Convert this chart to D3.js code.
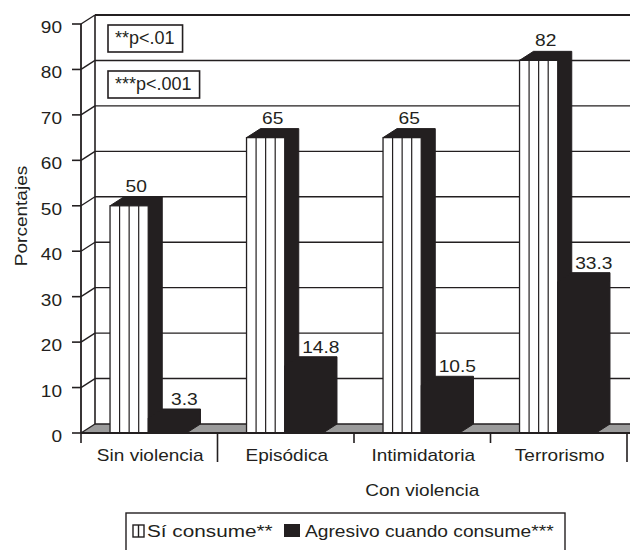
<!DOCTYPE html>
<html><head><meta charset="utf-8">
<script src="https://cdn.jsdelivr.net/npm/d3@7"></script>
<style>
body{margin:0;background:#fff}
text{font-family:"Liberation Sans",Arial,Helvetica,sans-serif;fill:#231f20}
</style>
</head><body>
<svg id="chart" width="630" height="550"></svg>
<script>
// ---- data ----
const categories = ["Sin violencia","Episódica","Intimidatoria","Terrorismo"];
const categoryGroups = ["","Con violencia","Con violencia","Con violencia"];
const seriesNames = ["Sí consume**","Agresivo cuando consume***"];
const siConsume = [50,65,65,82];
const agresivo = [3.3,14.8,10.5,33.3];
const siLabels = ["50","65","65","82"];
const agresivoLabels = ["3.3","14.8","10.5","33.3"];
const yTicks = [0,10,20,30,40,50,60,70,80,90];
const notes = ["**p<.01","***p<.001"];
const yTitle = "Porcentajes";

// ---- layout ----
const INK = "#231f20";
const X0 = 81, X1 = 627, Y0 = 433, Y1 = 24, DX = 14, DY = -9, FAR = 680;
const SX = 1.12;
const svg = d3.select("#chart");
const x = d3.scaleBand().domain(categories).range([X0, X1]);
const y = d3.scaleLinear().domain([0, 90]).range([Y0, Y1]);
const bw = x.bandwidth();
const barW = bw * 0.28;

function txt(g, px, py, s, opts = {}) {
  const t = g.append("text")
    .attr("transform", `translate(${px},${py}) rotate(${opts.rot || 0}) scale(${opts.sx || SX},1)`)
    .attr("text-anchor", opts.anchor || "start")
    .style("font-size", (opts.size || 17) + "px")
    .text(s);
  return t;
}

// floor
svg.append("polygon")
  .attr("points", [[X0, Y0], [FAR, Y0], [FAR + DX, Y0 + DY], [X0 + DX, Y0 + DY]].map(p => p.join(",")).join(" "))
  .attr("fill", "#9b9b9b");

// back wall gridlines and left wall diagonals
const grid = svg.append("g").attr("stroke", INK).attr("fill", "none");
yTicks.forEach(v => {
  grid.append("line")
    .attr("x1", X0 + DX).attr("x2", FAR)
    .attr("y1", y(v) + DY).attr("y2", y(v) + DY)
    .attr("stroke-width", v === 90 ? 2.2 : 1.4);
  grid.append("line")
    .attr("x1", X0).attr("x2", X0 + DX)
    .attr("y1", y(v)).attr("y2", y(v) + DY)
    .attr("stroke-width", 1.4);
});
// left wall back edge
grid.append("line")
  .attr("x1", X0 + DX).attr("x2", X0 + DX)
  .attr("y1", y(0) + DY).attr("y2", y(90) + DY)
  .attr("stroke-width", 1.6);

// bars
const bars = svg.append("g");
categories.forEach((c, i) => {
  const x0 = x(c) + bw / 2 - barW - 1;
  const v1 = y(siConsume[i]);
  // striped bar: top + side (black), front (white with stripes)
  bars.append("polygon")
    .attr("points", [[x0, v1], [x0 + DX, v1 + DY], [x0 + barW + DX, v1 + DY], [x0 + barW + DX, Y0 + DY], [x0 + barW, Y0], [x0 + barW, v1]].map(p => p.join(",")).join(" "))
    .attr("fill", INK).attr("stroke", INK).attr("stroke-width", 1);
  bars.append("rect")
    .attr("x", x0).attr("y", v1).attr("width", barW).attr("height", Y0 - v1)
    .attr("fill", "#fff").attr("stroke", INK).attr("stroke-width", 1.3);
  [1, 2, 3].forEach(k => {
    bars.append("line")
      .attr("x1", x0 + k * barW / 4).attr("x2", x0 + k * barW / 4)
      .attr("y1", v1).attr("y2", Y0)
      .attr("stroke", INK).attr("stroke-width", 1.2);
  });
  // black bar
  const xb = x0 + barW;
  const v2 = y(agresivo[i]);
  bars.append("polygon")
    .attr("points", [[xb, Y0], [xb, v2], [xb + DX, v2 + DY], [xb + barW + DX, v2 + DY], [xb + barW + DX, Y0 + DY], [xb + barW, Y0]].map(p => p.join(",")).join(" "))
    .attr("fill", INK).attr("stroke", INK).attr("stroke-width", 1);
  // value labels
  txt(svg, x0 + barW / 2 + DX / 2, v1 + DY - 5, siLabels[i], { anchor: "middle", size: 16, sx: 1.2 });
  txt(svg, xb + barW / 2 + 17, v2 + DY - 4, agresivoLabels[i], { anchor: "middle", size: 16, sx: 1.2 });
});

// front y axis
const ax = svg.append("g").attr("stroke", INK);
ax.append("line").attr("x1", X0).attr("x2", X0).attr("y1", y(0)).attr("y2", y(90)).attr("stroke-width", 1.8);
yTicks.forEach(v => {
  ax.append("line").attr("x1", X0 - 9).attr("x2", X0).attr("y1", y(v)).attr("y2", y(v)).attr("stroke-width", 1.6);
  txt(svg, 62, y(v) + 9, String(v), { anchor: "end" });
});
// x axis
ax.append("line").attr("x1", X0).attr("x2", FAR).attr("y1", Y0).attr("y2", Y0).attr("stroke-width", 1.8);
const bounds = categories.map(c => x(c)).concat([X1]);
bounds.forEach((bx, i) => {
  let long = false;
  if (i > 0 && i < categories.length) long = categoryGroups[i] !== categoryGroups[i - 1];
  if (i === categories.length) long = categoryGroups[i - 1] !== "";
  ax.append("line").attr("x1", bx).attr("x2", bx).attr("y1", Y0).attr("y2", long ? 462 : 443).attr("stroke-width", 1.6);
});
categories.forEach(c => txt(svg, x(c) + bw / 2 + 1, 461, c, { anchor: "middle" }));
// group label
const gcats = categories.filter((c, i) => categoryGroups[i] === "Con violencia");
const gx0 = x(gcats[0]), gx1 = x(gcats[gcats.length - 1]) + bw;
txt(svg, (gx0 + gx1) / 2, 496, "Con violencia", { anchor: "middle" });

// y title
txt(svg, 27, 216, yTitle, { anchor: "middle", rot: -90 });

// notes boxes
const nb = [[108, 25, 44], [108, 71, 90]];
notes.forEach((n, i) => {
  const [bx, by, base] = nb[i];
  const t = txt(svg, bx + 7, base, n, { size: 18, sx: 1.0 });
  const w = t.node().getBBox().width;
  svg.insert("rect", "text")
    .attr("x", bx).attr("y", by).attr("width", w + 15).attr("height", 27)
    .attr("fill", "#fff").attr("stroke", INK).attr("stroke-width", 1.6);
});

// legend
const lg = svg.append("g");
lg.append("rect").attr("x", 126).attr("y", 513).attr("width", 439).attr("height", 60)
  .attr("fill", "#fff").attr("stroke", INK).attr("stroke-width", 1.4);
lg.append("rect").attr("x", 133).attr("y", 525).attr("width", 11).attr("height", 12)
  .attr("fill", "#fff").attr("stroke", INK).attr("stroke-width", 1.4);
lg.append("line").attr("x1", 138.5).attr("x2", 138.5).attr("y1", 525).attr("y2", 537)
  .attr("stroke", INK).attr("stroke-width", 1.4);
txt(lg, 147, 537, seriesNames[0], { sx: 1.22 });
lg.append("rect").attr("x", 284).attr("y", 524).attr("width", 16).attr("height", 13).attr("fill", INK);
txt(lg, 305, 537, seriesNames[1], { sx: 1.13 });
</script>
</body></html>
